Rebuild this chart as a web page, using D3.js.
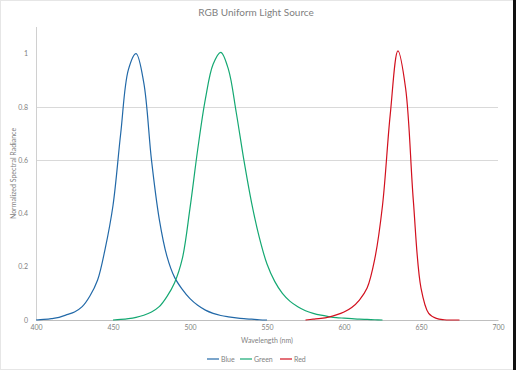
<!DOCTYPE html>
<html>
<head>
<meta charset="utf-8">
<script src="https://cdn.jsdelivr.net/npm/d3@7"></script>
<style>
  html, body { margin: 0; padding: 0; background: #fff; }
  svg text { font-family: Lato, "Open Sans", sans-serif; fill: #7f7f7f; }
</style>
</head>
<body>
<div id="chart"></div>
<script>
// data
const blueNm = [400,405,410,415,420,425,430,435,440,445,450,455,460,465,470,475,480,485,490,495,500,505,510,515,520,525,530,535,540,545,550];
const blueVal = [0,0.002,0.005,0.01,0.02,0.03,0.05,0.09,0.15,0.27,0.43,0.7,0.94,1.0,0.89,0.6,0.38,0.24,0.16,0.115,0.08,0.055,0.037,0.025,0.017,0.012,0.008,0.005,0.003,0.001,0];

const greenNm = [450,455,460,465,470,475,480,485,490,495,500,505,510,515,520,525,530,535,540,545,550,555,560,565,570,575,580,585,590,595,600,605,610,615,620,625];
const greenVal = [0,0.002,0.005,0.01,0.018,0.03,0.05,0.088,0.14,0.23,0.42,0.64,0.83,0.96,1.005,0.94,0.78,0.6,0.44,0.31,0.21,0.145,0.1,0.07,0.05,0.035,0.025,0.018,0.013,0.009,0.007,0.005,0.003,0.002,0.001,0];

const redNm = [575,580,585,590,595,600,605,610,615,620,625,630,635,640,645,650,655,660,665,670,675];
const redVal = [0,0.003,0.006,0.011,0.019,0.03,0.047,0.075,0.12,0.23,0.43,0.77,1.01,0.87,0.45,0.12,0.025,0.006,0.001,0,0];

const seriesNames = ["Blue", "Green", "Red"];
const seriesColors = ["#2269a8", "#14a872", "#d2101e"];
const xTicks = [400, 450, 500, 550, 600, 650, 700];
const yTicks = [0, 0.2, 0.4, 0.6, 0.8, 1];
const gridTicks = [0.6, 0.8];

const W = 516, H = 370;
const plotLeft = 36, plotRight = 498, plotTop = 27, plotBottom = 320;

const svg = d3.select("#chart").append("svg")
  .attr("width", W)
  .attr("height", H);

svg.append("rect")
  .attr("x", 0.5).attr("y", 0.5)
  .attr("width", W - 1).attr("height", H - 1)
  .attr("fill", "#fff")
  .attr("stroke", "#e6e6e6");

// dark strip at the right edge
svg.append("rect")
  .attr("x", 513).attr("y", 0)
  .attr("width", 3).attr("height", H)
  .attr("fill", "#111");

const x = d3.scaleLinear().domain([400, 700]).range([plotLeft, plotRight]);
const y = d3.scaleLinear().domain([0, 1.1]).range([plotBottom, plotTop]);

// gridlines
svg.append("g").selectAll("line")
  .data(gridTicks)
  .enter().append("line")
  .attr("x1", plotLeft).attr("x2", plotRight)
  .attr("y1", d => Math.round(y(d)) + 0.5).attr("y2", d => Math.round(y(d)) + 0.5)
  .attr("stroke", "#d9d9d9")
  .attr("stroke-width", 1);

// y axis line
svg.append("line")
  .attr("x1", plotLeft + 0.5).attr("x2", plotLeft + 0.5)
  .attr("y1", plotTop).attr("y2", plotBottom)
  .attr("stroke", "#d0d0d0");

// x axis
const xAxis = svg.append("g")
  .attr("transform", "translate(0," + plotBottom + ")")
  .call(d3.axisBottom(x).tickValues(xTicks).tickSize(0).tickPadding(5).tickFormat(d3.format("d")));
xAxis.select(".domain").attr("stroke", "#bfbfbf");
xAxis.selectAll("text").attr("font-size", "7px").attr("fill", "#7f7f7f");

// y axis labels
const yAxis = svg.append("g")
  .attr("transform", "translate(" + plotLeft + ",0)")
  .call(d3.axisLeft(y).tickValues(yTicks).tickSize(0).tickPadding(8).tickFormat(d => d));
yAxis.select(".domain").remove();
yAxis.selectAll("text").attr("font-size", "7px").attr("fill", "#7f7f7f");

const line = d3.line()
  .x(d => x(d[0]))
  .y(d => y(d[1]))
  .curve(d3.curveCatmullRom.alpha(0.5));

const series = [
  d3.zip(blueNm, blueVal),
  d3.zip(greenNm, greenVal),
  d3.zip(redNm, redVal)
];

svg.append("g").selectAll("path")
  .data(series)
  .enter().append("path")
  .attr("d", line)
  .attr("fill", "none")
  .attr("stroke", (d, i) => seriesColors[i])
  .attr("stroke-width", 1.2);

// title
svg.append("text")
  .attr("x", 256).attr("y", 16)
  .attr("text-anchor", "middle")
  .attr("font-size", "10px")
  .attr("fill", "#595959")
  .text("RGB Uniform Light Source");

// axis titles
svg.append("text")
  .attr("x", (plotLeft + plotRight) / 2).attr("y", 343)
  .attr("text-anchor", "middle")
  .attr("font-size", "7px")
  .text("Wavelength (nm)");

svg.append("text")
  .attr("transform", "translate(16," + (plotTop + plotBottom) / 2 + ") rotate(-90)")
  .attr("text-anchor", "middle")
  .attr("font-size", "7px")
  .text("Normalized Spectral Radiance");

// legend
const legendX = [207, 240, 280];
const leg = svg.append("g").selectAll("g")
  .data(seriesNames)
  .enter().append("g")
  .attr("transform", (d, i) => "translate(" + legendX[i] + ",359)");

leg.append("line")
  .attr("x1", 0).attr("x2", 12)
  .attr("stroke", (d, i) => seriesColors[i])
  .attr("stroke-width", 1.2);

leg.append("text")
  .attr("x", 14).attr("y", 2.5)
  .attr("font-size", "7px")
  .text(d => d);
</script>
</body>
</html>
